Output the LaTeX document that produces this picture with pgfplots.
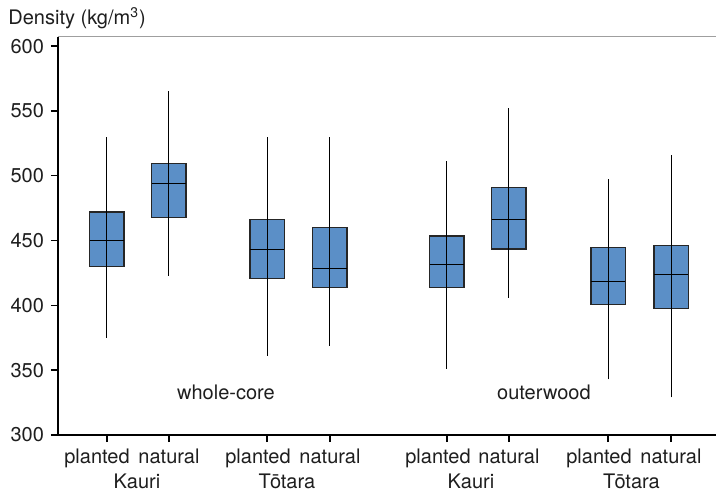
\documentclass[border=0pt]{standalone}
\usepackage{fontspec}
\setmainfont{TeX Gyre Heros}
\usepackage{pgfplots}
\pgfplotsset{compat=1.18}

\definecolor{boxblue}{RGB}{91,143,199}
\definecolor{txt}{RGB}{30,30,30}

% one box: position, lower whisker, lower quartile, median, upper quartile, upper whisker
\newcommand{\bx}[6]{%
  \pgfmathsetmacro{\bxl}{#1-0.275}%
  \pgfmathsetmacro{\bxr}{#1+0.275}%
  \addplot[fill=boxblue, draw=black!85, line width=0.55pt]
    coordinates {(\bxl,#3) (\bxr,#3) (\bxr,#5) (\bxl,#5)} -- cycle;
  \addplot[black, line width=0.55pt] coordinates {(\bxl,#4) (\bxr,#4)};
  \addplot[black, line width=0.5pt] coordinates {(#1,#2) (#1,#6)};
}

\begin{document}
\begin{tikzpicture}
\begin{axis}[
    scale only axis,
    width=329pt, height=199pt,
    xmin=0.21, xmax=10.823,
    ymin=300, ymax=607,
    axis x line*=bottom, axis y line*=left,
    axis line style={black, line width=0.7pt},
    tick align=outside,
    major tick length=3.5pt,
    tick style={black, line width=0.7pt},
    ytick={300,350,...,600},
    xtick={1,2,3.581,4.597,6.484,7.484,9.081,10.097},
    xticklabels={planted\hspace*{10pt},natural,planted\hspace*{9pt},natural,
                 planted\hspace*{9pt},natural,planted\hspace*{9pt},natural},
    /pgf/number format/assume math mode=true,
    ticklabel style={text=txt},
    clip=false,
]
  \bx{1}{375}{430}{450}{472}{530}
  \bx{2}{423}{468}{494}{509.5}{565}
  \bx{3.581}{361}{421}{443}{466}{530}
  \bx{4.597}{369}{414}{428.5}{460}{530}
  \bx{6.484}{351}{414}{431.5}{453.5}{511.5}
  \bx{7.484}{406}{443.5}{466}{491}{552}
  \bx{9.081}{343}{401}{418.5}{444.5}{497.5}
  \bx{10.097}{329}{397.5}{423.5}{446}{516}

  \draw[gray!75, line width=0.5pt] (rel axis cs:0,1) -- (rel axis cs:1,1);

  \node[anchor=base, text=txt] at (axis cs:2.919,327) {whole-core};
  \node[anchor=base, text=txt] at (axis cs:8.048,327) {outerwood};

  \node[anchor=base, text=txt, yshift=-26.5pt] at (axis cs:1.484,300) {Kauri};
  \node[anchor=base, text=txt, yshift=-26.5pt] at (axis cs:3.903,300) {Tōtara};
  \node[anchor=base, text=txt, yshift=-26.5pt] at (axis cs:6.871,300) {Kauri};
  \node[anchor=base, text=txt, yshift=-26.5pt] at (axis cs:9.46,300) {Tōtara};
\end{axis}
\node[anchor=base west, text=txt, inner sep=0pt]
  at ([xshift=-25pt, yshift=6pt]current axis.north west) {Density (kg/m\textsuperscript{3})};
\pgfresetboundingbox
\path[use as bounding box] ([xshift=-29pt, yshift=-28.5pt]current axis.south west)
  rectangle ([yshift=18.5pt]current axis.north east);
\end{tikzpicture}
\end{document}
